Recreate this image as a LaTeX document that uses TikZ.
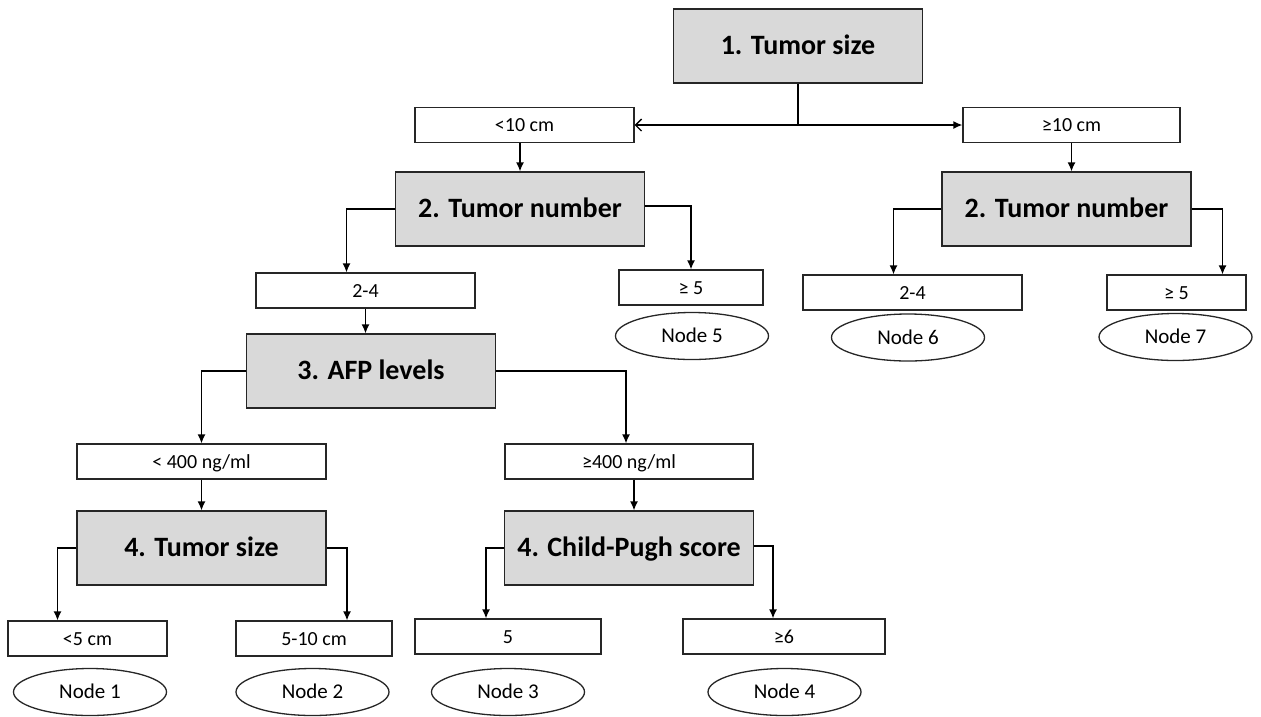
\documentclass[tikz,border=0pt]{standalone}
\usepackage{fontspec}
\setmainfont{Carlito}
\usetikzlibrary{arrows.meta,shapes.geometric}

\begin{document}
\begin{tikzpicture}[
        x = 1pt, y = -1pt,
        line width = 1.3pt,
        test/.style = {draw=black!85, fill=black!15, minimum width=249pt,
            minimum height=74pt, inner sep=0pt, text height=23pt,
            text depth=6pt, font=\fontsize{28}{32}\selectfont\bfseries},
        cut/.style = {draw=black!85, fill=white, minimum height=35pt,
            inner sep=0pt, text height=17pt, text depth=4pt,
            font=\fontsize{20}{24}\selectfont},
        leaf/.style = {draw=black!85, ellipse, minimum width=153pt,
            minimum height=47pt, inner sep=0pt, text height=17.5pt,
            text depth=4pt, font=\fontsize{21}{25}\selectfont},
        arr/.style = {-{Latex[length=9pt,width=8pt]}}
    ]
        \useasboundingbox (0,0) rectangle (1261,716);

        % first split
        \node[test] (size1) at (798, 46) {1. Tumor size};
        \node[cut, minimum width=219pt] (lt10) at (524.5, 125) {<10 cm};
        \node[cut, minimum width=217pt] (ge10) at (1071.5, 125) {≥10 cm};

        % tumor number
        \node[test] (numL) at (520, 209) {2. Tumor number};
        \node[test] (numR) at (1066.5, 209) {2. Tumor number};
        \node[cut, minimum width=219pt] (numL24) at (365.5, 290.5) {2-4};
        \node[cut, minimum width=144pt] (numL5) at (691, 287.5) {≥ 5};
        \node[cut, minimum width=219pt] (numR24) at (912.5, 292.5) {2-4};
        \node[cut, minimum width=139pt] (numR5) at (1176.5, 292.5) {≥ 5};
        \node[leaf] (node5) at (692, 336) {Node 5};
        \node[leaf] (node6) at (908, 337.5) {Node 6};
        \node[leaf] (node7) at (1175.5, 337) {Node 7};

        % AFP
        \node[test] (afp) at (371, 371) {3. AFP levels};
        \node[cut, minimum width=249pt] (afpL) at (201.5, 461.5) {< 400 ng/ml};
        \node[cut, minimum width=248pt] (afpH) at (629, 461.5) {≥400 ng/ml};

        % last level
        \node[test] (size4) at (201.5, 548) {4. Tumor size};
        \node[test] (child) at (629, 548) {4. Child-Pugh score};
        \node[cut, minimum width=159pt] (sizeS) at (87.5, 638.5) {<5 cm};
        \node[cut, minimum width=156pt] (sizeM) at (314, 638.5) {5-10 cm};
        \node[cut, minimum width=186pt] (child5) at (508, 636.5) {5};
        \node[cut, minimum width=202pt] (child6) at (784, 636.5) {≥6};
        \node[leaf] (node1) at (90, 692) {Node 1};
        \node[leaf] (node2) at (312.5, 692) {Node 2};
        \node[leaf] (node3) at (508, 692) {Node 3};
        \node[leaf] (node4) at (784.5, 692) {Node 4};

        % connectors
        \coordinate (split) at (size1.south |- lt10.east);
        \draw (size1.south) -- (split);
        \draw[-{Straight Barb[length=6pt,width=12pt]}] (split) -- (lt10.east);
        \draw[arr] (split) -- (ge10.west);
        \draw[arr] (numL.north |- lt10.south) -- (numL.north);
        \draw[arr] (ge10.south) -- (ge10.south |- numR.north);
        \draw[arr] (numL.west) -| ([xshift=-19pt]numL24.north);
        \draw[arr] ([yshift=3pt]numL.east) -| (numL5.north);
        \draw[arr] (numR.west) -| ([xshift=-19pt]numR24.north);
        \draw[arr] (numR.east) -| ([xshift=46pt]numR5.north);
        \draw[arr] (numL24.south) -- (numL24.south |- afp.north);
        \draw[arr] (afp.west) -| (afpL.north);
        \draw[arr] (afp.east) -| ([xshift=-3pt]afpH.north);
        \draw[arr] (afpL.south) -- (size4.north);
        \draw[arr] ([xshift=5pt]afpH.south) -- ([xshift=5pt]child.north);
        \draw[arr] (size4.west) -| ([xshift=-30pt]sizeS.north);
        \draw[arr] (size4.east) -| ([xshift=33pt]sizeM.north);
        \draw[arr] (child.west) -| ([xshift=-22pt]child5.north);
        \draw[arr] ([yshift=2pt]child.east) -| ([xshift=-11pt]child6.north);
    \end{tikzpicture}
\end{document}
